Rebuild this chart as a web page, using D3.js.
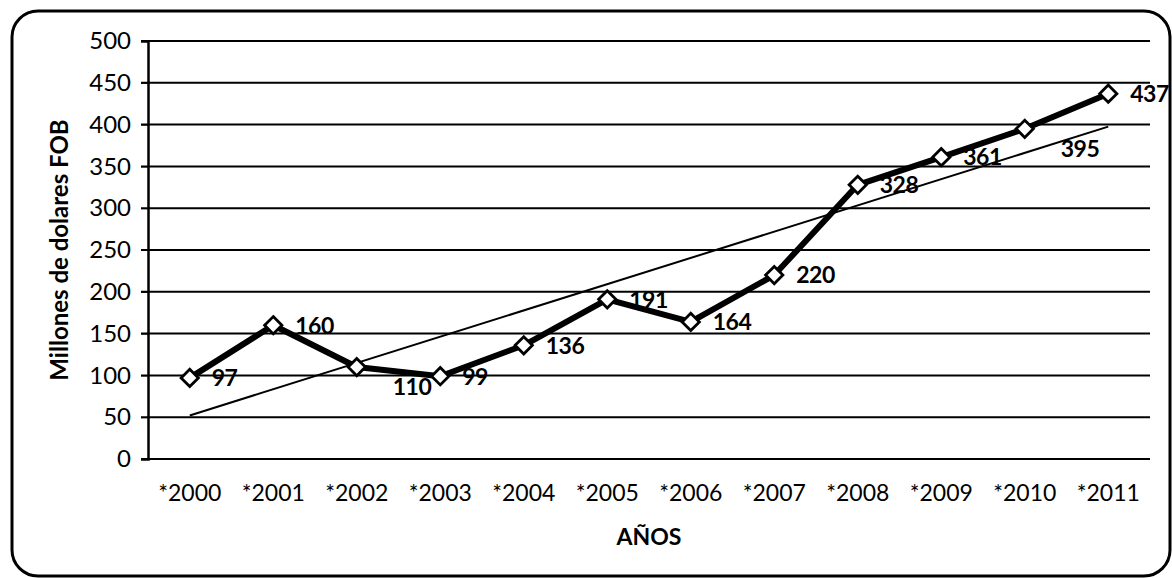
<!DOCTYPE html>
<html>
<head>
<meta charset="utf-8">
<script src="https://cdn.jsdelivr.net/npm/d3@7"></script>
<style>
  body { margin: 0; background: #fff; }
  text { font-family: Lato, "Open Sans", sans-serif; }
</style>
</head>
<body>
<div class="canvas"></div>
<script>
// data
const years = ['*2000', '*2001', '*2002', '*2003', '*2004', '*2005', '*2006', '*2007', '*2008', '*2009', '*2010', '*2011'];
const values = [97, 160, 110, 99, 136, 191, 164, 220, 328, 361, 395, 437];
const yTicks = [0, 50, 100, 150, 200, 250, 300, 350, 400, 450, 500];
// labels that sit below-right of the marker instead of right
const lowLabels = ['*2002', '*2010'];

const width = 1172, height = 578;
const svg = d3.select('.canvas')
    .append('svg')
        .attr('width', width)
        .attr('height', height);

// outer frame
svg.append('rect')
    .attr('x', 12).attr('y', 11)
    .attr('width', 1158).attr('height', 565)
    .attr('rx', 26)
    .attr('fill', 'none')
    .attr('stroke', '#000')
    .attr('stroke-width', 3);

const margin = {top: 41, left: 148, right: 22, bottom: 119};
const graphWidth = width - margin.left - margin.right;
const graphHeight = height - margin.top - margin.bottom;

const graph = svg.append('g')
    .attr('transform', `translate(${margin.left}, ${margin.top})`);

const x = d3.scaleBand()
    .domain(years)
    .range([0, graphWidth]);

const y = d3.scaleLinear()
    .domain([0, 500])
    .range([graphHeight, 0]);

// gridlines
graph.append('g')
    .selectAll('line')
    .data(yTicks)
    .enter().append('line')
        .attr('x1', -7).attr('x2', graphWidth)
        .attr('y1', d => y(d)).attr('y2', d => y(d))
        .attr('stroke', '#000')
        .attr('stroke-width', 2);

// axes
const yAxis = d3.axisLeft(y).tickValues(yTicks).tickSize(7).tickPadding(10);
const yAxisGroup = graph.append('g').call(yAxis);
yAxisGroup.select('.domain').attr('stroke-width', 2.5);
yAxisGroup.selectAll('text')
    .attr('font-size', 24)
    .attr('font-family', 'Lato, sans-serif')
    .attr('fill', '#000');

const xAxis = d3.axisBottom(x).tickSize(0).tickPadding(26);
const xAxisGroup = graph.append('g')
    .attr('transform', `translate(0, ${graphHeight})`)
    .call(xAxis);
xAxisGroup.select('.domain').remove();
xAxisGroup.selectAll('text')
    .attr('font-size', 23)
    .attr('font-family', 'Lato, sans-serif')
    .attr('fill', '#000');

// linear trend line
const xs = values.map((d, i) => i);
const mx = d3.mean(xs), my = d3.mean(values);
const slope = d3.sum(xs, (xi, i) => (xi - mx) * (values[i] - my)) / d3.sum(xs, xi => (xi - mx) ** 2);
const icpt = my - slope * mx;
const cx = d => x(d) + x.bandwidth() / 2;

graph.append('line')
    .attr('x1', cx(years[0]))
    .attr('y1', y(icpt))
    .attr('x2', cx(years[years.length - 1]))
    .attr('y2', y(icpt + slope * (years.length - 1)))
    .attr('stroke', '#000')
    .attr('stroke-width', 2);

// main line
const line = d3.line()
    .x((d, i) => cx(years[i]))
    .y(d => y(d));

graph.append('path')
    .datum(values)
    .attr('d', line)
    .attr('fill', 'none')
    .attr('stroke', '#000')
    .attr('stroke-width', 6)
    .attr('stroke-linejoin', 'round');

// diamond markers
graph.selectAll('.marker')
    .data(values)
    .enter().append('path')
        .attr('class', 'marker')
        .attr('d', d3.symbol().type(d3.symbolDiamond2).size(190))
        .attr('transform', (d, i) => `translate(${cx(years[i])}, ${y(d)})`)
        .attr('fill', '#fff')
        .attr('stroke', '#000')
        .attr('stroke-width', 2.8);

// data labels
graph.selectAll('.label')
    .data(values)
    .enter().append('text')
        .attr('class', 'label')
        .attr('x', (d, i) => cx(years[i]) + (lowLabels.includes(years[i]) ? 36 : 22))
        .attr('y', (d, i) => y(d) + (lowLabels.includes(years[i]) ? 20 : 0))
        .attr('dy', '0.36em')
        .attr('font-size', 23)
        .attr('font-weight', 'bold')
        .attr('letter-spacing', -0.5)
        .text(d => d);

// axis titles
svg.append('text')
    .attr('transform', `translate(68, ${margin.top + graphHeight / 2}) rotate(-90)`)
    .attr('text-anchor', 'middle')
    .attr('font-size', 24)
    .attr('font-weight', 'bold')
    .text('Millones de dolares FOB');

svg.append('text')
    .attr('x', margin.left + graphWidth / 2)
    .attr('y', 545)
    .attr('text-anchor', 'middle')
    .attr('font-size', 23)
    .attr('font-weight', 'bold')
    .text('AÑOS');
</script>
</body>
</html>
